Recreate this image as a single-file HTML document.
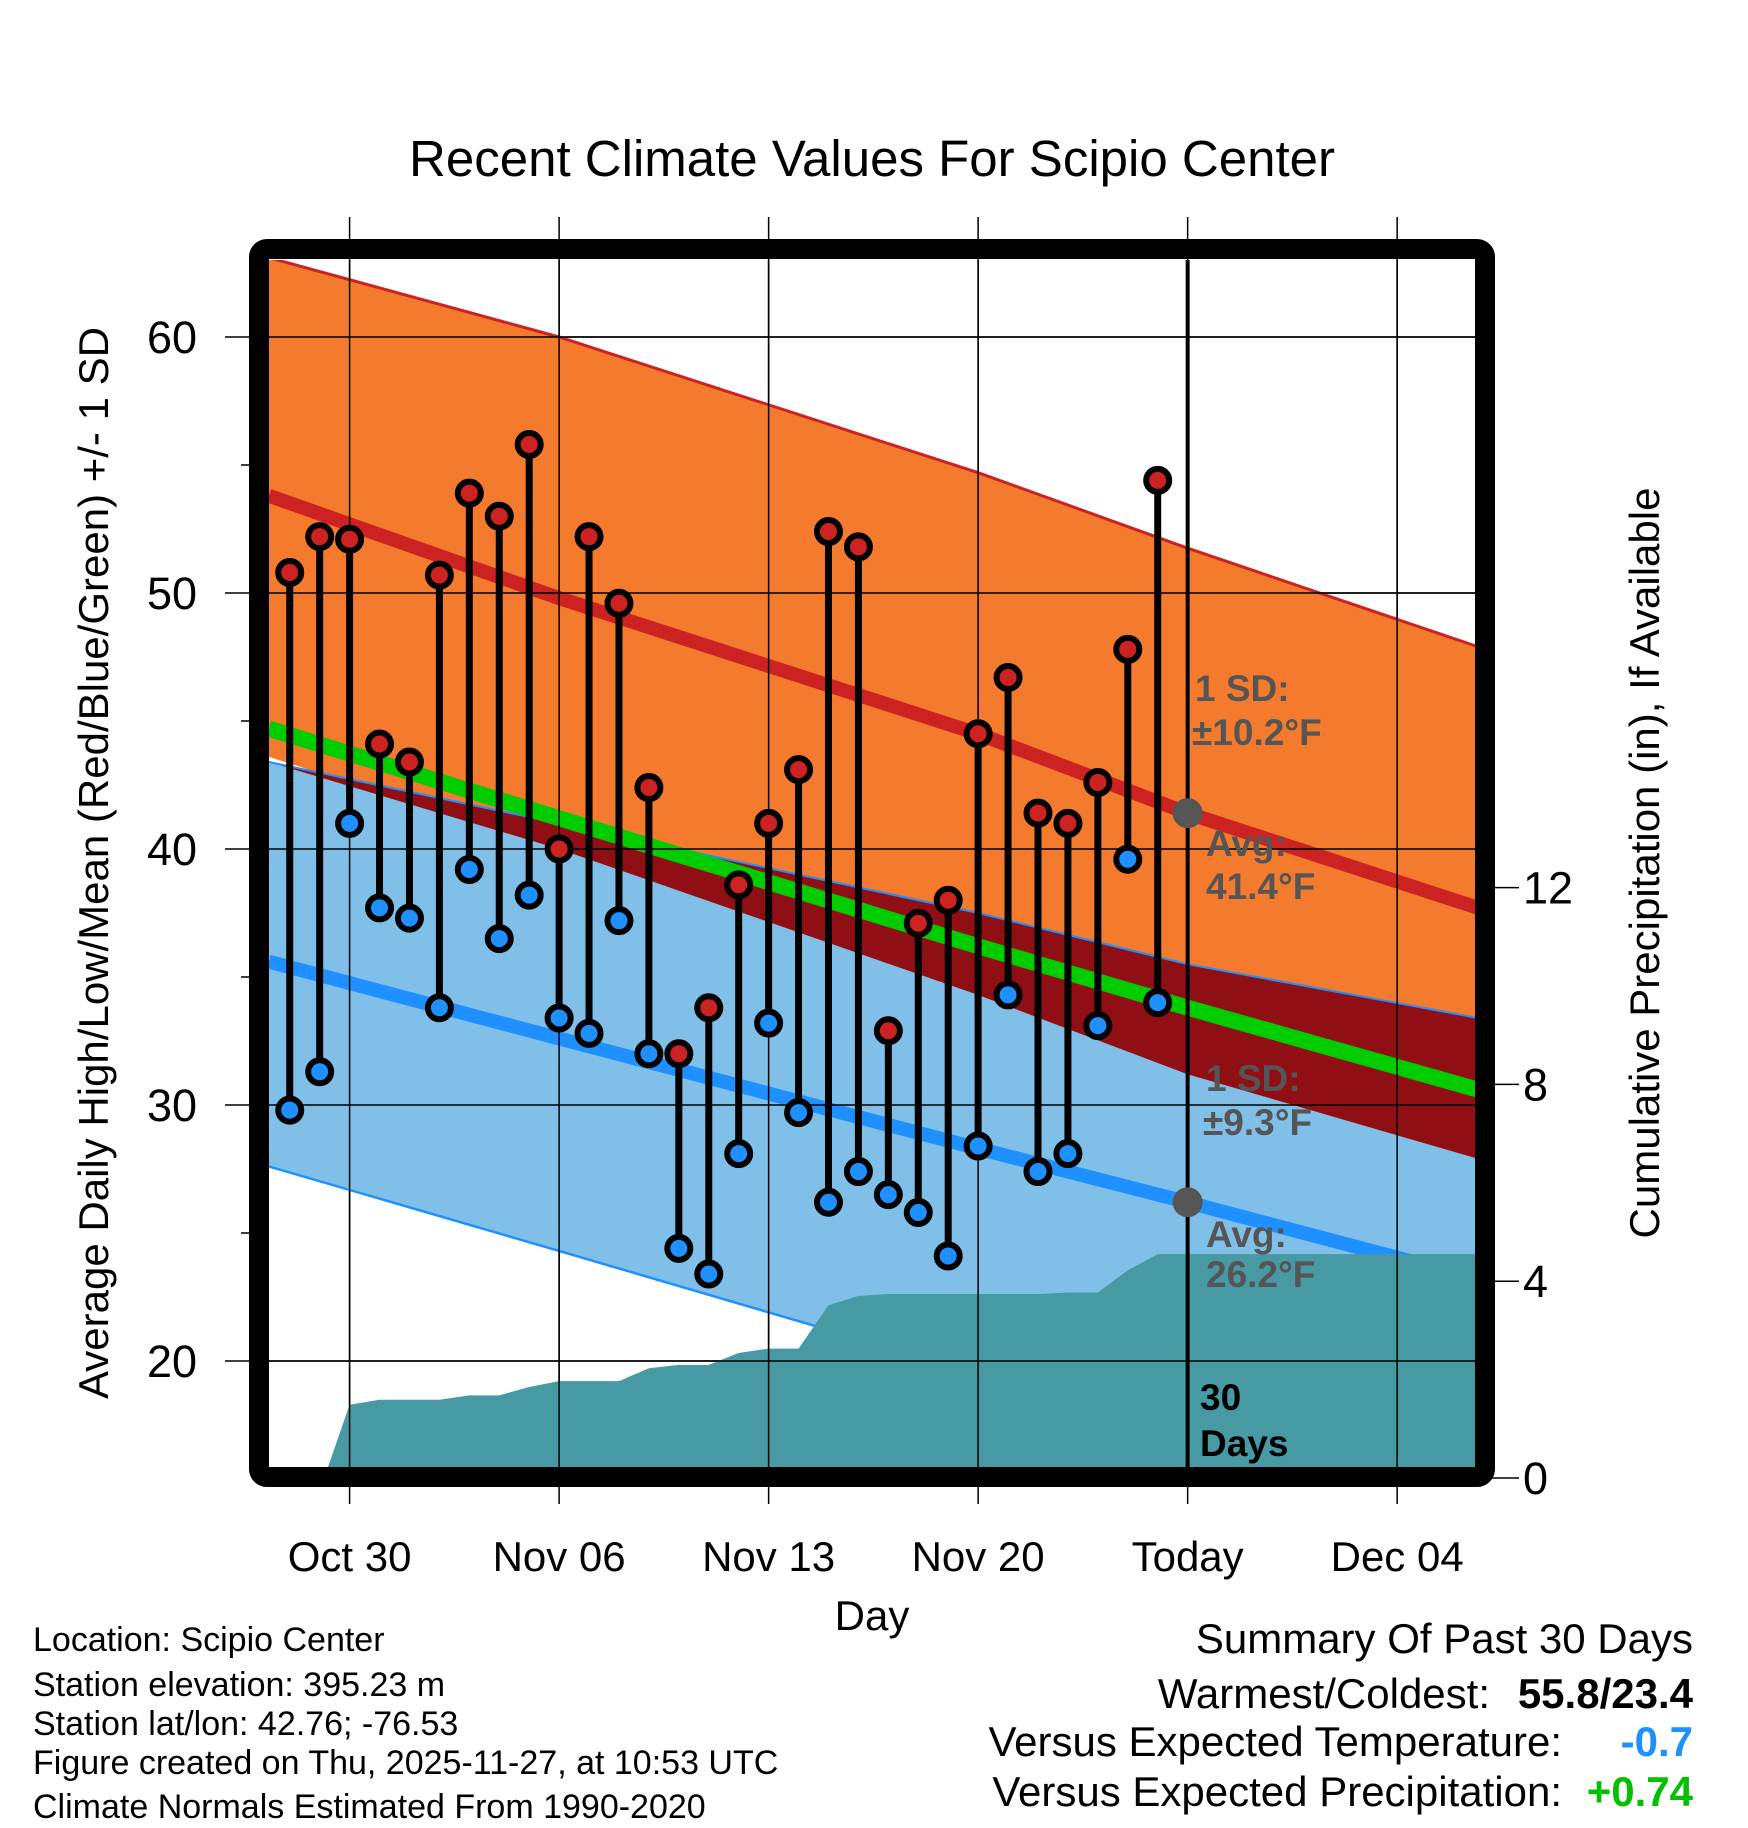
<!DOCTYPE html>
<html><head><meta charset="utf-8"><style>
body{margin:0;background:#fff;}
svg{display:block;font-family:"Liberation Sans",Arial,sans-serif;}
</style></head><body>
<svg id="chart" width="1748" height="1828" viewBox="0 0 1748 1828" xmlns="http://www.w3.org/2000/svg">
<text x="872" y="176" font-size="51" text-anchor="middle">Recent Climate Values For Scipio Center</text>
<g id="grid"></g>
<g id="plot"></g>
<g id="axes"></g>
<text transform="translate(108,863) rotate(-90)" font-size="42" text-anchor="middle">Average Daily High/Low/Mean (Red/Blue/Green) +/- 1 SD</text>
<text transform="translate(1659,863) rotate(-90)" font-size="42" text-anchor="middle">Cumulative Precipitation (in), If Available</text>
<text x="872" y="1630" font-size="42" text-anchor="middle">Day</text>
<g font-size="34">
<text x="33" y="1651">Location: Scipio Center</text>
<text x="33" y="1696">Station elevation: 395.23 m</text>
<text x="33" y="1735">Station lat/lon: 42.76; -76.53</text>
<text x="33" y="1774">Figure created on Thu, 2025-11-27, at 10:53 UTC</text>
<text x="33" y="1818">Climate Normals Estimated From 1990-2020</text>
</g>
<g font-size="42" text-anchor="end">
<text x="1693" y="1653">Summary Of Past 30 Days</text>
<text x="1490" y="1708">Warmest/Coldest:</text>
<text x="1693" y="1708" font-weight="bold">55.8/23.4</text>
<text x="1562" y="1756">Versus Expected Temperature:</text>
<text x="1693" y="1756" font-weight="bold" fill="#1e90ff">-0.7</text>
<text x="1562" y="1806">Versus Expected Precipitation:</text>
<text x="1693" y="1806" font-weight="bold" fill="#00c000">+0.74</text>
</g>
</svg>
<script>
// ---- data ----
const days = [-2,-1,0,1,2,3,4,5,6,7,8,9,10,11,12,13,14,15,16,17,18,19,20,21,22,23,24,25,26,27];
const highs = [50.8,52.2,52.1,44.1,43.4,50.7,53.9,53.0,55.8,40.0,52.2,49.6,42.4,32.0,33.8,38.6,41.0,43.1,52.4,51.8,32.9,37.1,38.0,44.5,46.7,41.4,41.0,42.6,47.8,54.4];
const lows = [29.8,31.3,41.0,37.7,37.3,33.8,39.2,36.5,38.2,33.4,32.8,37.2,32.0,24.4,23.4,28.1,33.2,29.7,26.2,27.4,26.5,25.8,24.1,28.4,34.3,27.4,28.1,33.1,39.6,34.0];
const normDays = [-2.7,7,21,28,37.7];
const highUpper = [63.1,60.0,54.7,51.75,47.9];
const highAvg = [53.8,49.8,44.5,41.4,37.7];
const highLower = [43.6,40.0,34.3,31.2,27.9];
const lowUpper = [43.4,41.0,37.5,35.5,33.4];
const lowAvg = [35.6,32.6,28.3,26.2,23.2];
const lowLower = [27.6,24.3,19.5,16.9,14.0];
const meanLine = [44.7,41.2,36.2,33.8,30.6];
const precipDays = [-0.85,0,1,2,3,4,5,6,7,8,9,10,11,12,13,14,15,16,17,18,19,20,21,22,23,24,25,26,27,37.7];
const precip = [0,1.49,1.59,1.59,1.59,1.68,1.68,1.85,1.97,1.97,1.97,2.23,2.30,2.30,2.54,2.63,2.63,3.51,3.70,3.74,3.74,3.74,3.74,3.74,3.74,3.77,3.77,4.22,4.55,4.55];
const yTicks = [20,30,40,50,60];
const yMinor = [25,35,45,55];
const y2Ticks = [0,4,8,12];
const xTickDays = [0,7,14,21,28,35];
const xTickLabels = ["Oct 30","Nov 06","Nov 13","Nov 20","Today","Dec 04"];

// ---- axes functions ----
const X = d => 349.6 + d*29.93;
const Y = v => 337 + (60-v)*25.6;
const Y2 = p => 1478 - p*49.2;
const L=269,R=1478,T=260,B=1469;
const NS="http://www.w3.org/2000/svg";
function mk(tag,attrs,parent){const e=document.createElementNS(NS,tag);for(const k in attrs)e.setAttribute(k,attrs[k]);parent.appendChild(e);return e;}
const plot=document.getElementById('plot'), grid=document.getElementById('grid'), axes=document.getElementById('axes');
const clip=mk('clipPath',{id:'cp'},document.getElementById('chart'));
mk('rect',{x:L,y:T,width:R-L,height:B-T},clip);
plot.setAttribute('clip-path','url(#cp)');
const pts=(arr)=>normDays.map((d,i)=>X(d)+','+Y(arr[i]));
const band=(up,lo)=>pts(up).concat(pts(lo).reverse()).join(' ');

let e;
e=mk('polygon',{points:band(lowUpper,lowLower),fill:'#80c0e8'},plot);


e=mk('polygon',{points:band(highUpper,highLower),fill:'#f47a2e'},plot);


const ovLo=highLower.map((v,i)=>Math.min(v,lowUpper[i]));
e=mk('polygon',{points:band(lowUpper,ovLo),fill:'#8f0f14'},plot);


function line(arr,color,w,name){const l=mk('polyline',{points:pts(arr).join(' '),fill:'none',stroke:color,'stroke-width':w},plot);

}
line(lowUpper,'#1e90ff',2,'low-upper-line');
line(lowLower,'#1e90ff',2.5,'low-lower-line');
line(highUpper,'#cc2222',3,'high-upper-line');
line(meanLine,'#00cc00',16,'mean-line');
line(highAvg,'#cc2222',14,'high-avg-line');
line(lowAvg,'#1e90ff',14,'low-avg-line');
// precip
const pp=[X(precipDays[0])+','+Y2(0)].concat(precipDays.map((d,i)=>X(d)+','+Y2(precip[i]))).concat([X(precipDays[precipDays.length-1])+','+Y2(0)]);
e=mk('polygon',{points:pp.join(' '),fill:'#4799a3'},plot);


// grid
xTickDays.forEach((d,i)=>{const g=mk('line',{x1:X(d),x2:X(d),y1:217,y2:1504,stroke:'#000','stroke-width':1.5},grid);


const t=mk('text',{x:X(d),y:1571,'font-size':42,'text-anchor':'middle'},axes);t.textContent=xTickLabels[i];

});
yTicks.forEach(v=>{const g=mk('line',{x1:225,x2:R,y1:Y(v),y2:Y(v),stroke:'#000','stroke-width':1.5},grid);


const t=mk('text',{x:197,y:Y(v)+16,'font-size':45,'text-anchor':'end'},axes);t.textContent=v;

});
yMinor.forEach(v=>{mk('line',{x1:241,x2:260,y1:Y(v),y2:Y(v),stroke:'#000','stroke-width':1.5},axes);});
y2Ticks.forEach(p=>{mk('line',{x1:1490,x2:1519,y1:Y2(p),y2:Y2(p),stroke:'#000','stroke-width':1.5},axes);
const t=mk('text',{x:1523,y:Y2(p)+16,'font-size':45},axes);t.textContent=p;

});
// grid lines inside plot above bands
xTickDays.forEach(d=>{mk('line',{x1:X(d),x2:X(d),y1:T,y2:B,stroke:'#000','stroke-width':1.5},plot);});
yTicks.forEach(v=>{mk('line',{x1:L,x2:R,y1:Y(v),y2:Y(v),stroke:'#000','stroke-width':1.5},plot);});
// today line
e=mk('line',{x1:X(28),x2:X(28),y1:T,y2:B,stroke:'#000','stroke-width':4},plot);


// gray dots
[[41.4],[26.2]].forEach(v=>{const c=mk('circle',{cx:X(28),cy:Y(v[0]),r:15,fill:'#555'},plot);

});
// stems & dots
days.forEach((d,i)=>{
 const s=mk('line',{x1:X(d),x2:X(d),y1:Y(highs[i]),y2:Y(lows[i]),stroke:'#000','stroke-width':7},plot);
 
 
 const h=mk('circle',{cx:X(d),cy:Y(highs[i]),r:11.5,fill:'#cc2222',stroke:'#000','stroke-width':6},plot);
 
 
 const l=mk('circle',{cx:X(d),cy:Y(lows[i]),r:11.5,fill:'#1e90ff',stroke:'#000','stroke-width':6},plot);
 
 
});
// annotations
const ann=[["1 SD:",1195,701,'#555'],["\u00b110.2\u00b0F",1192,745,'#555'],["Avg:",1206,856,'#555'],["41.4\u00b0F",1206,899,'#555'],["1 SD:",1206,1091,'#555'],["\u00b19.3\u00b0F",1203,1135,'#555'],["Avg:",1206,1247,'#555'],["26.2\u00b0F",1206,1287,'#555'],["30",1200,1410,'#000'],["Days",1200,1456,'#000']];
ann.forEach(a=>{const t=mk('text',{x:a[1],y:a[2],'font-size':37,'font-weight':'bold',fill:a[3]},plot);t.textContent=a[0];

});
// frame
e=mk('rect',{x:259,y:249,width:1226,height:1228,rx:8,fill:'none',stroke:'#000','stroke-width':20},axes);


</script>
</body></html>
